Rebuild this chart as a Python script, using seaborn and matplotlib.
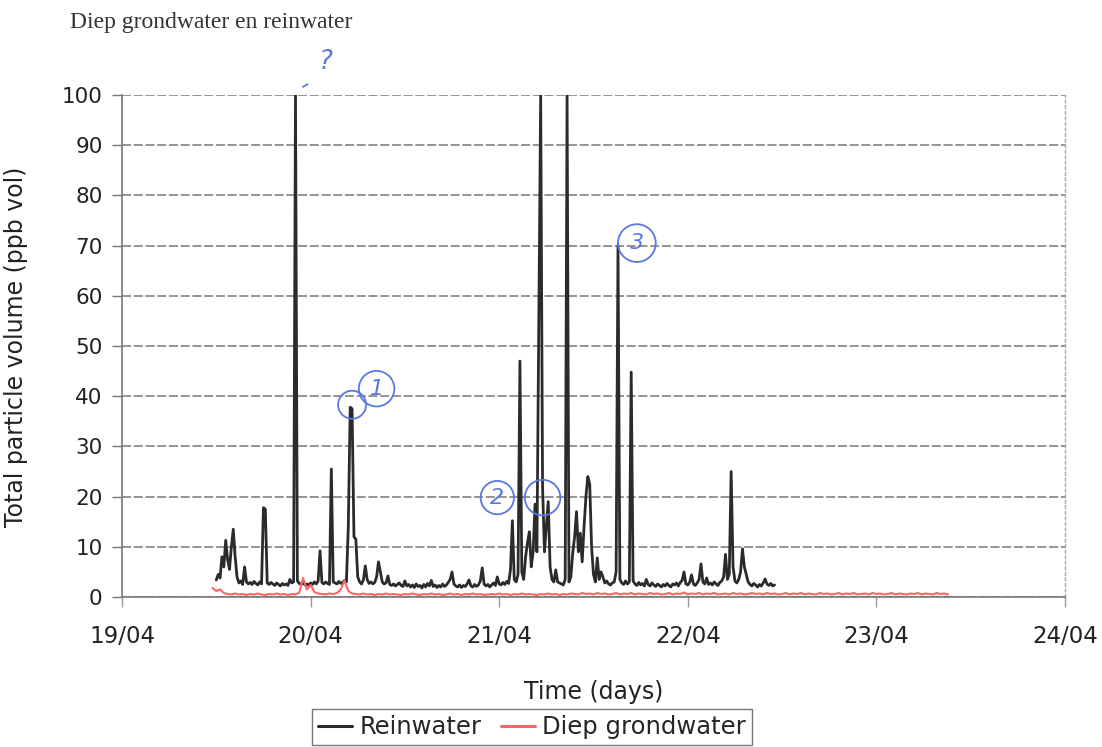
import numpy as np
import pandas as pd
import matplotlib
matplotlib.use("Agg")
import matplotlib.pyplot as plt
import seaborn as sns

# ---------------- data ----------------
# Reinwater: samples every 0.01 day starting 19/04 12:00 (day 19.50)
rein_start = 19.50
rein_step = 0.01
rein_values = [
    3.4, 4.5, 3.8, 8.0, 6.0, 11.3, 7.5, 5.5, 10.0, 13.5,
    8.0, 4.0, 2.8, 3.2, 2.5, 6.0, 3.0, 2.6, 2.9, 2.5,
    3.1, 2.7, 2.4, 3.0, 2.6, 17.8, 17.5, 2.8, 2.5, 2.9,
    2.6, 2.3, 2.8, 2.5, 2.2, 2.7, 2.4, 2.6, 2.3, 3.5,
    2.8, 3.0, 100.0, 3.2, 2.7, 2.5, 2.9, 2.4, 2.6, 2.3,
    2.8, 2.5, 3.0, 2.6, 3.2, 9.2, 2.9, 2.6, 3.0, 2.7,
    2.5, 25.5, 3.0, 2.8, 2.6, 3.1, 2.7, 2.9, 3.3, 3.0,
    14.0, 37.8, 37.5, 12.0, 11.5, 4.0, 3.0, 2.6, 3.4, 6.2,
    3.5, 2.7, 3.0, 2.6, 2.9, 4.0, 7.0, 5.0, 3.0, 2.6,
    2.8, 4.2, 2.5, 2.3, 2.6, 2.2, 2.5, 2.8, 2.3, 2.1,
    3.2, 2.2, 2.5, 2.0, 2.4, 1.9, 2.6, 2.1, 2.3, 1.8,
    2.5, 2.0, 2.7, 2.2, 3.3, 2.1, 2.4, 1.9, 2.3, 2.0,
    2.6, 2.1, 2.4, 2.9, 3.5, 5.0, 2.6, 2.2, 2.0, 2.4,
    1.9, 2.3, 2.1, 2.6, 3.4, 2.2, 2.0, 2.5, 2.1, 2.4,
    3.2, 5.8, 2.6, 2.2, 2.5, 2.0, 2.4, 2.8, 2.3, 4.0,
    2.6, 2.4, 2.9, 2.5, 3.1, 2.7, 5.5, 15.2, 3.5, 3.0,
    4.5, 47.0, 5.0, 3.5, 8.0, 10.8, 13.0, 6.0, 9.0, 18.5,
    9.0, 55.0, 100.0, 22.0, 9.0, 14.0, 19.0, 6.0, 3.5, 3.0,
    5.4, 3.0, 2.8, 2.6, 2.4, 3.5, 100.0, 3.0, 4.0, 8.8,
    12.0, 17.0, 9.0, 12.7, 7.0, 14.0, 20.0, 24.0, 22.5, 10.0,
    4.5, 3.0, 7.8, 3.5, 5.0, 4.0, 2.8, 3.2, 2.6, 2.4,
    2.8, 3.0, 5.0, 70.0, 3.5, 2.8, 2.5, 3.2, 2.6, 3.0,
    44.8, 3.2, 2.6, 2.3, 2.9, 2.4, 2.7, 2.2, 3.5, 2.5,
    2.2, 2.8, 2.4, 2.1, 2.6, 2.3, 2.0, 2.5, 2.2, 2.7,
    2.3, 2.0, 2.6, 2.4, 2.8, 2.2, 2.9, 3.3, 5.0, 2.6,
    2.4, 2.9, 4.4, 2.6, 2.3, 2.8, 3.5, 6.6, 3.0, 2.6,
    3.8, 2.5, 2.8, 2.4, 3.0, 2.6, 2.3, 2.9, 3.2, 4.0,
    8.5, 3.5, 4.5, 25.0, 6.0, 3.2, 2.8, 3.5, 5.0, 9.6,
    6.0, 4.5, 3.0, 2.5, 2.2, 2.7, 2.4, 2.0, 2.5, 2.2,
    2.8, 3.6, 2.6, 2.3, 2.7, 2.2, 2.4,
]

# Diep grondwater: samples every 0.02 day starting day 19.48
diep_start = 19.48
diep_step = 0.02
diep_values = [
    1.8, 1.2, 1.5, 0.8, 0.6, 0.5, 0.7, 0.5, 0.6, 0.4,
    0.6, 0.5, 0.7, 0.5, 0.4, 0.6, 0.5, 0.7, 0.5, 0.6,
    0.4, 0.6, 0.5, 0.9, 3.8, 1.5, 2.4, 1.0, 0.7, 0.6,
    0.5, 0.7, 0.6, 0.8, 1.5, 3.3, 1.2, 0.7, 0.6, 0.5,
    0.7, 0.5, 0.6, 0.4, 0.6, 0.5, 0.7, 0.5, 0.6, 0.5,
    0.4, 0.6, 0.5, 0.7, 0.5, 0.4, 0.6, 0.5, 0.7, 0.5,
    0.6, 0.4, 0.5, 0.7, 0.5, 0.6, 0.4, 0.6, 0.5, 0.7,
    0.5, 0.6, 0.4, 0.5, 0.6, 0.5, 0.7, 0.5, 0.6, 0.4,
    0.6, 0.5, 0.7, 0.5, 0.6, 0.5, 0.4, 0.6, 0.5, 0.7,
    0.5, 0.6, 0.4, 0.6, 0.5, 0.7, 0.6, 0.5, 0.8, 0.6,
    0.7, 0.5, 0.8, 0.6, 0.7, 0.5, 0.6, 0.8, 0.5, 0.7,
    0.6, 0.8, 0.5, 0.7, 0.6, 0.5, 0.8, 0.6, 0.7, 0.5,
    0.6, 0.8, 0.5, 0.7, 0.6, 0.9, 0.5, 0.7, 0.6, 0.8,
    0.5, 0.7, 0.6, 0.8, 0.5, 0.6, 0.7, 0.5, 0.8, 0.6,
    0.7, 0.5, 0.6, 0.8, 0.6, 0.7, 0.5, 0.8, 0.6, 0.7,
    0.5, 0.6, 0.8, 0.5, 0.7, 0.6, 0.8, 0.5, 0.7, 0.6,
    0.5, 0.8, 0.6, 0.7, 0.5, 0.6, 0.8, 0.5, 0.7, 0.6,
    0.8, 0.5, 0.6, 0.7, 0.5, 0.8, 0.6, 0.7, 0.5, 0.6,
    0.8, 0.5, 0.7, 0.6, 0.5, 0.7, 0.6, 0.8, 0.5, 0.7,
    0.6, 0.5, 0.8, 0.6, 0.7, 0.5,
]

day_ticks = [19, 20, 21, 22, 23, 24]
day_labels = ["19/04", "20/04", "21/04", "22/04", "23/04", "24/04"]
y_ticks = [0, 10, 20, 30, 40, 50, 60, 70, 80, 90, 100]

series_names = ["Reinwater", "Diep grondwater"]
series_colors = ["#2b2b2b", "#ff6464"]

rein_df = pd.DataFrame({
    "time": rein_start + rein_step * np.arange(len(rein_values)),
    "value": rein_values,
})
diep_df = pd.DataFrame({
    "time": diep_start + diep_step * np.arange(len(diep_values)),
    "value": diep_values,
})

# ---------------- figure ----------------
sns.set_theme(style="white")
plt.rcParams["font.family"] = ["DejaVu Sans"]

fig = plt.figure(figsize=(11.02, 7.47), dpi=100)
ax = fig.add_axes([0.1107, 0.2008, 0.8557, 0.6720])

sns.lineplot(data=rein_df, x="time", y="value", ax=ax, color=series_colors[0],
             lw=2.0, estimator=None, label=series_names[0], zorder=3)
sns.lineplot(data=diep_df, x="time", y="value", ax=ax, color=series_colors[1],
             lw=1.5, estimator=None, label=series_names[1], zorder=4)

ax.set_xlim(19, 24)
ax.set_ylim(0, 100)
ax.set_xticks(day_ticks)
ax.set_xticklabels(day_labels)
ax.set_yticks(y_ticks)

ax.yaxis.grid(True, color="#8c8c8c", lw=1.3, linestyle=(0, (5, 1.5)))
ax.xaxis.grid(False)
ax.set_axisbelow(True)

for side in ["left", "bottom"]:
    ax.spines[side].set_color("#777777")
    ax.spines[side].set_linewidth(1.2)
ax.spines["top"].set_visible(False)
ax.spines["right"].set_color("#aaaaaa")
ax.spines["right"].set_linestyle((0, (2, 2)))
ax.spines["right"].set_linewidth(1.0)

ax.tick_params(axis="y", direction="out", length=7, width=1, color="#777777",
               pad=7, labelsize=15.5, labelcolor="#222222", left=True)
ax.tick_params(axis="x", direction="out", length=7, width=1, color="#999999",
               pad=13, labelsize=16.5, labelcolor="#222222", bottom=True)

ax.set_ylabel("Total particle volume (ppb vol)", fontsize=17, color="#222222")
ax.yaxis.set_label_coords(-0.1, 0.498)
ax.set_xlabel("Time (days)", fontsize=17, color="#222222")
ax.xaxis.set_label_coords(0.5, -0.165)

leg = ax.legend(loc="upper center", bbox_to_anchor=(0.483, 0.0505),
                bbox_transform=fig.transFigure, ncol=2, fontsize=17.5,
                frameon=True, fancybox=False, edgecolor="#555555",
                handlelength=1.4, handletextpad=0.3, columnspacing=0.8,
                borderpad=0.25, borderaxespad=0)
leg.get_frame().set_linewidth(1.0)
for line in leg.get_lines():
    line.set_linewidth(2.2)

fig.text(0.0635, 0.9705, "Diep grondwater en reinwater", fontsize=17,
         family=["Liberation Serif", "DejaVu Serif"], color="#333333",
         ha="left", va="center")

# handwritten-style annotations (blue)
blue = "#5a78e0"
ax.text(20.08, 106.5, "?", fontsize=19, color=blue, ha="center", va="center",
        style="italic", clip_on=False)
ax.text(19.97, 102.0, "-", fontsize=18, color=blue, ha="center", va="center",
        rotation=30, clip_on=False)
ax.text(20.35, 41.5, "1", fontsize=16, color=blue, ha="center", va="center",
        style="italic", bbox=dict(boxstyle="circle,pad=0.35", fc="none", ec=blue, lw=1.3))
ax.text(20.22, 38.3, " ", fontsize=12, color=blue, ha="center", va="center",
        bbox=dict(boxstyle="circle,pad=0.3", fc="none", ec=blue, lw=1.3))
ax.text(20.99, 19.8, "2", fontsize=16, color=blue, ha="center", va="center",
        style="italic", bbox=dict(boxstyle="circle,pad=0.3", fc="none", ec=blue, lw=1.3))
ax.text(21.23, 19.8, "  ", fontsize=16, color=blue, ha="center", va="center",
        bbox=dict(boxstyle="circle,pad=0.35", fc="none", ec=blue, lw=1.3))
ax.text(21.73, 70.5, "3", fontsize=16, color=blue, ha="center", va="center",
        style="italic", bbox=dict(boxstyle="circle,pad=0.4", fc="none", ec=blue, lw=1.3))

fig.savefig("out.png", dpi=100)
